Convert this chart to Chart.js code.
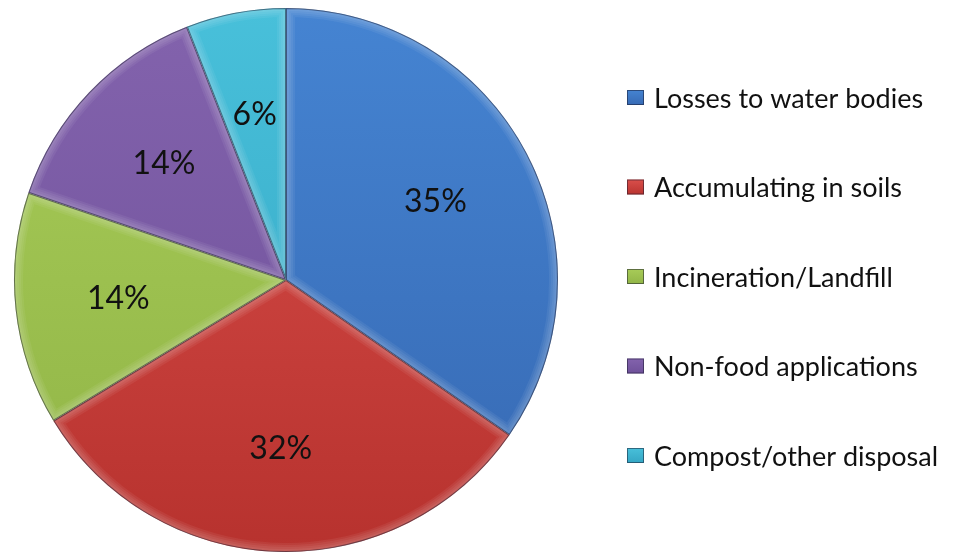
<!DOCTYPE html>
<html>
<head>
<meta charset="utf-8">
<script src="https://cdn.jsdelivr.net/npm/chart.js@4.4.1/dist/chart.umd.min.js"></script>
<style>
  html, body { margin: 0; padding: 0; background: #fff; }
  #wrap { width: 957px; height: 554px; position: relative; }
</style>
</head>
<body>
<div id="wrap"><canvas id="pieChart"></canvas></div>
<script>
// Where the material ends up (percent shares)
const categories = [
  "Losses to water bodies",
  "Accumulating in soils",
  "Incineration/Landfill",
  "Non-food applications",
  "Compost/other disposal"
];
const shares = [35, 32, 14, 14, 6];

// light (top) and dark (bottom) shade for each slice
const lightShade = ["#4584d2", "#da4f4b", "#a8cc58", "#8363ad", "#48c0da"];
const darkShade  = ["#3668b2", "#b7322e", "#90b446", "#6d4f98", "#33a4c2"];

function sliceFill(ctx) {
  const chart = ctx.chart;
  const area = chart.chartArea;
  const i = ctx.dataIndex;
  if (!area) return lightShade[i];
  const g = chart.ctx.createLinearGradient(0, area.top, 0, area.bottom);
  g.addColorStop(0, lightShade[i]);
  g.addColorStop(1, darkShade[i]);
  return g;
}

// soft bevel along the edges of every slice
const bevel = {
  id: "bevel",
  afterDatasetsDraw(chart) {
    const c = chart.ctx;
    chart.getDatasetMeta(0).data.forEach(arc => {
      const p = arc.getProps(["x", "y", "startAngle", "endAngle", "outerRadius"], true);
      c.save();
      c.beginPath();
      c.moveTo(p.x, p.y);
      c.arc(p.x, p.y, p.outerRadius, p.startAngle, p.endAngle);
      c.closePath();
      c.clip();
      c.lineJoin = "round";
      [18, 14, 10, 6].forEach(w => {
        c.strokeStyle = "rgba(255,255,255,0.06)";
        c.lineWidth = w;
        c.stroke();
      });
      c.strokeStyle = "rgba(20,20,40,0.5)";
      c.lineWidth = 2;
      c.stroke();
      c.restore();
    });
  }
};

// percentage text inside each slice
const sliceLabels = {
  id: "sliceLabels",
  afterDatasetsDraw(chart) {
    const c = chart.ctx;
    c.save();
    c.font = "32px Lato";
    c.fillStyle = "#111";
    c.textAlign = "center";
    c.textBaseline = "middle";
    chart.getDatasetMeta(0).data.forEach((arc, i) => {
      const p = arc.getProps(["x", "y", "startAngle", "endAngle", "outerRadius"], true);
      const mid = (p.startAngle + p.endAngle) / 2;
      const r = p.outerRadius * 0.62;
      c.fillText(shares[i] + "%", p.x + Math.cos(mid) * r, p.y + Math.sin(mid) * r);
    });
    c.restore();
  }
};

// legend column to the right of the pie
const sideLegend = {
  id: "sideLegend",
  afterDraw(chart) {
    const c = chart.ctx;
    const x = chart.chartArea.right + 69;
    const step = 89.5;
    c.save();
    c.font = "27px Lato";
    c.textBaseline = "middle";
    categories.forEach((name, i) => {
      const y = chart.height / 2 + (i - 2) * step;
      const g = c.createLinearGradient(0, y - 8, 0, y + 8);
      g.addColorStop(0, lightShade[i]);
      g.addColorStop(1, darkShade[i]);
      c.fillStyle = g;
      c.fillRect(x, y - 8, 17, 15);
      c.strokeStyle = "rgba(20,20,40,0.5)";
      c.lineWidth = 1;
      c.strokeRect(x + 0.5, y - 7.5, 16, 14);
      c.fillStyle = "#111";
      c.fillText(name, x + 27, y + 1);
    });
    c.restore();
  }
};

new Chart(document.getElementById("pieChart"), {
  type: "pie",
  data: {
    labels: categories,
    datasets: [{
      data: shares,
      backgroundColor: sliceFill,
      borderWidth: 0
    }]
  },
  options: {
    responsive: true,
    maintainAspectRatio: false,
    animation: false,
    layout: { padding: { left: 14, top: 8, bottom: 2, right: 399 } },
    plugins: {
      legend: { display: false },
      tooltip: { enabled: false }
    }
  },
  plugins: [bevel, sliceLabels, sideLegend]
});
</script>
</body>
</html>
